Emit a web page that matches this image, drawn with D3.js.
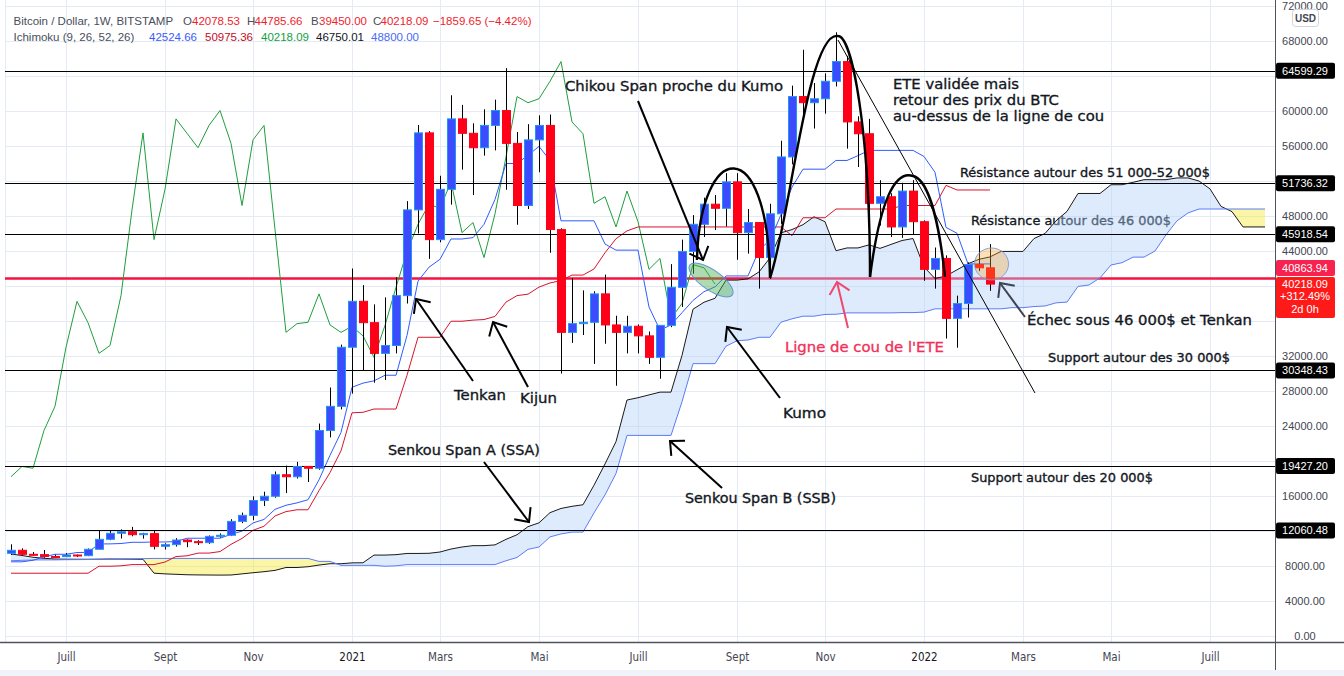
<!DOCTYPE html>
<html>
<head>
<meta charset="utf-8">
<script src="https://cdn.jsdelivr.net/npm/d3@7/dist/d3.min.js"></script>
<style>
html,body{margin:0;padding:0;background:#ffffff;}
svg{display:block;}
</style>
</head>
<body>
<svg id="chart" width="1344" height="676"></svg>
<script>
// ================= DATA =================
// weekly candles, bar index -5 (2020-06-01) ... 84 (2022-02-14)
const firstBar = -5;
const openP = [9451,9794,9337,9300,9090,9067,9257,9180,9910,11050,11740,11920,11580,11700,10250,10440,10970,10780,10670,11390,11510,13100,13790,15480,15970,18430,18200,19380,19170,23490,26250,33000,38250,35810,32300,33200,38900,48700,57500,45300,51050,59100,57450,55800,58350,60050,56300,49200,56700,58350,46450,34700,35700,35850,39100,35550,34700,35400,34300,31850,35500,39850,43950,47050,49350,48880,51900,46100,47250,43250,48250,54750,61650,60950,61400,63400,65650,58750,57400,49450,50200,46750,50850,47350,41900,43150,36300,38000,42450,42078.53];
const highP = [10480,10020,9600,9830,9300,9480,9320,10000,12100,12000,12190,12470,11800,12080,10600,11180,11050,10950,11490,11720,13350,14100,15960,16490,18800,19480,19900,19420,24280,28400,33300,42000,40100,37900,38700,41000,49700,58400,57700,52600,61800,60700,58600,60200,61300,64900,57600,58500,59500,59600,46600,40900,39500,39400,41300,36600,36600,35600,34800,35500,42500,45300,48100,50100,50400,52900,52900,48800,47300,49400,56600,62900,67000,63200,64300,69000,66300,59400,59100,52100,50600,51800,52099,47500,44400,43500,38900,42700,45800,44785.66];
const lowP = [9260,9220,9200,8950,8950,9020,9020,9130,9900,10950,11150,11400,11120,9900,9880,10220,10150,10400,10530,11250,11420,12900,13230,14850,15800,16330,18000,17600,19000,22700,25900,27700,30400,28950,29250,32300,38000,46000,43100,45000,49300,53300,50400,54900,55500,51000,47000,48800,53000,43800,30000,33500,34400,31100,33400,28600,32300,32300,31100,29400,35300,37600,41400,45600,46400,46800,43000,43700,39700,40800,47100,53900,59600,58000,59700,62800,55700,53600,42000,46900,45600,45500,45900,40600,39700,34000,32951,36400,41700,39450];
const closeP = [9794,9337,9300,9090,9067,9257,9180,9910,11050,11740,11920,11580,11700,10250,10440,10970,10780,10670,11390,11510,13100,13790,15480,15970,18430,18200,19380,19170,23490,26250,33000,38250,35810,32300,33200,38900,48700,57500,45300,51050,59100,57450,55800,58350,60050,56300,49200,56700,58350,46450,34700,35700,35850,39100,35550,34700,35400,34300,31850,35500,39850,43950,47050,49350,48880,51900,46100,47250,43250,48250,54750,61650,60950,61400,63400,65650,58750,57400,49450,50200,46750,50850,47350,41900,43150,36300,38000,42450,42078.53,40218.09];

// Ichimoku lines, same bar indexing as candles
const tenkan = [8480,8480,8655,9040,9340,9340,9540,9560,10525,10525,10570,10710,10710,10745,10745,10800,11175,11175,11175,11175,11615,11990,12920,13320,14475,14940,15215,15575,17850,20650,23265,28425,28900,29165,29800,29800,34350,40550,42150,43050,45375,45375,45525,47050,49900,54000,54000,54950,55950,54350,47450,47450,47450,47450,44800,44100,44100,44100,37600,34950,35550,36950,38350,39350,39900,41150,41150,41150,44100,45250,48150,51300,53350,53350,53350,54350,54350,54900,55500,55500,55500,55500,55500,54800,53000,46700,46025,42525,42525,42525];
const kijun = [7175,7175,7175,7175,7175,7175,7175,7175,7975,7975,8020,8160,8160,8160,8455,9080,9165,9475,9475,9650,10475,11150,12080,12545,13720,14215,14425,14425,16615,18675,21160,25510,25565,25940,25940,25940,29790,34140,34140,34140,35975,35975,36100,36165,36525,38160,38900,39065,39875,40350,40615,41250,41250,41950,43800,45400,46300,46750,46750,46750,46750,46750,46750,46750,46750,46750,46750,46750,46750,46750,46750,45750,47800,47800,47800,48800,48800,48800,48800,48800,48800,49200,49200,49200,49200,51500,50975,50975,50975,50975];
// lagging span, bar -5 ... 59
const chikouFirstBar = -5;
const chikou = [18200,19380,19170,23490,26250,33000,38250,35810,32300,33200,38900,48700,57500,45300,51050,59100,57450,55800,58350,60050,56300,49200,56700,58350,46450,34700,35700,35850,39100,35550,34700,35400,34300,31850,35500,39850,43950,47050,49350,48880,51900,46100,47250,43250,48250,54750,61650,60950,61400,63400,65650,58750,57400,49450,50200,46750,50850,47350,41900,43150,36300,38000,42450,42078.53,40218.09];
// leading spans, bar -5 ... 109
const spanFirstBar = -5;
const senkouA = [9370,9200,9000,8880,8800,8780,8770,8770,8780,8800,8790,8780,8765,7180,7100,7050,7000,6980,6970,6960,6970,7100,7230,7350,7500,7828,7828,7915,8108,8258,8258,8358,8368,9250,9250,9295,9435,9435,9453,9600,9940,10170,10325,10325,10413,11045,11570,12500,12933,14098,14578,14820,15000,17233,19663,22213,26968,27233,27553,27870,27870,32070,37345,38145,38595,40675,40675,40813,41608,43213,46080,46450,47008,47913,47350,44033,44350,44350,44700,44300,44750,45200,45425,42175,40850,41150,41850,42550,43050,43325,43950,43950,43950,45425,46000,47450,48525,50575,50575,50575,51575,51575,51850,52150,52150,52150,52350,52350,52000,51100,49100,48500,46750,46750,46750];
const senkouB = [8600,8650,8690,8700,8700,8720,8730,8740,8760,8780,8800,8820,8840,8865,8865,8865,8865,8865,8865,8865,8865,8865,8865,8865,8865,8865,8865,8865,8525,8525,8075,8075,8075,8075,7975,8020,8160,8160,8160,8160,8160,8160,8160,8160,8160,8600,8975,9905,10170,11325,11665,11875,11875,14065,16125,18575,22925,22925,22925,22925,22925,26775,31125,31125,31125,33120,33745,33830,34140,34140,35865,36250,36550,36550,36750,36770,36925,36925,36925,36925,36925,36960,36960,37015,37390,37390,37390,37390,37390,37390,37390,37525,37525,37650,37715,38075,38160,39950,40115,40925,42400,42665,43300,43300,44000,45850,47450,48350,48800,48800,48800,48800,48800,48800,48800];

// axes
const monthLabels = ["Juill","Sept","Nov","2021","Mars","Mai","Juill","Sept","Nov","2022","Mars","Mai","Juill"];
const monthBars = [0,9,17,26,34,43,52,61,69,78,87,95,104];
const priceTicks = [0,4000,8000,12000,16000,20000,24000,28000,32000,36000,40000,44000,48000,52000,56000,60000,64000,68000,72000];

// horizontal levels drawn on the chart
const levelPrices = [64599.29, 51736.32, 45918.54, 30348.43, 19427.20, 12060.48];
const neckPrice = 40863.94;
const lastPrice = 40218.09;

// ================= SETUP =================
const W = 1344, H = 676;
const PL = 5, PR = 1275, PT = 0, PB = 642;
const x = d3.scaleLinear().domain([0, 100]).range([66, 1166]);
const y = d3.scaleLinear().domain([0, 72000]).range([636, 6]);

const svg = d3.select("#chart");
svg.append("rect").attr("width", W).attr("height", H).attr("fill", "#ffffff");
const defs = svg.append("defs");
defs.append("clipPath").attr("id", "plotClip").append("rect")
  .attr("x", PL).attr("y", PT).attr("width", PR - PL).attr("height", PB - PT);

const plot = svg.append("g").attr("clip-path", "url(#plotClip)");

// grid
const grid = plot.append("g").attr("stroke", "#e4ebf5").attr("stroke-width", 1);
priceTicks.forEach(v => {
  const yy = Math.round(y(v)) + 0.5;
  grid.append("line").attr("x1", PL).attr("x2", PR).attr("y1", yy).attr("y2", yy);
});
monthBars.forEach(b => {
  const xx = Math.round(x(b)) + 0.5;
  grid.append("line").attr("x1", xx).attr("x2", xx).attr("y1", PT).attr("y2", PB);
});
plot.append("line").attr("x1", PL + 0.5).attr("x2", PL + 0.5).attr("y1", PT).attr("y2", PB)
  .attr("stroke", "#e4ebf5");

// neckline (under the cloud)
plot.append("line").attr("x1", PL).attr("x2", PR)
  .attr("y1", y(neckPrice)).attr("y2", y(neckPrice))
  .attr("stroke", "#f5133f").attr("stroke-width", 2.4);

// text helper
const FONT = "'DejaVu Sans', Verdana, sans-serif";
function addText(g, t) {
  const col = t.color || "#131722";
  const el = g.append("text").attr("x", x(t.b)).attr("y", y(t.p))
    .attr("font-family", FONT).attr("font-size", t.size)
    .attr("fill", col).attr("stroke", col).attr("stroke-width", 0.35)
    .attr("paint-order", "stroke");
  if (t.lines) {
    t.lines.forEach((s, i) => {
      el.append("tspan").attr("x", x(t.b)).attr("dy", i === 0 ? 0 : t.lh).text(s);
    });
  } else {
    if (t.len) el.attr("textLength", t.len).attr("lengthAdjust", "spacingAndGlyphs");
    el.text(t.t);
  }
}
// text under the cloud
addText(plot, {t: "Résistance autour des 46 000$", b: 82.27, p: 46971, size: 13, len: 200});

// ================= CLOUD =================
const spans = senkouA.map((a, k) => ({b: spanFirstBar + k, a: a, s: senkouB[k]}));
const aboveB = d3.area().x(d => x(d.b)).y0(-20).y1(d => y(d.s));
const belowB = d3.area().x(d => x(d.b)).y0(d => y(d.s)).y1(H + 20);
defs.append("clipPath").attr("id", "clipAbove").append("path").attr("d", aboveB(spans));
defs.append("clipPath").attr("id", "clipBelow").append("path").attr("d", belowB(spans));
const between = d3.area().x(d => x(d.b)).y0(d => y(d.s)).y1(d => y(d.a));
plot.append("g").attr("clip-path", "url(#clipAbove)").append("path")
  .attr("d", between(spans)).attr("fill", "rgba(176,208,250,0.42)");
plot.append("g").attr("clip-path", "url(#clipBelow)").append("path")
  .attr("d", between(spans)).attr("fill", "rgba(246,232,60,0.45)");

const line = d3.line().x(d => x(d[0])).y(d => y(d[1]));
plot.append("path").attr("d", line(spans.map(d => [d.b, d.a])))
  .attr("fill", "none").attr("stroke", "#1a1a1a").attr("stroke-width", 1);
plot.append("path").attr("d", line(spans.map(d => [d.b, d.s])))
  .attr("fill", "none").attr("stroke", "#5a7cf8").attr("stroke-width", 1);

// chikou, kijun, tenkan
plot.append("path").attr("d", line(chikou.map((v, k) => [chikouFirstBar + k, v])))
  .attr("fill", "none").attr("stroke", "#1f9e3c").attr("stroke-width", 1);
plot.append("path").attr("d", line(kijun.map((v, k) => [firstBar + k, v])))
  .attr("fill", "none").attr("stroke", "#d8142d").attr("stroke-width", 1);
plot.append("path").attr("d", line(tenkan.map((v, k) => [firstBar + k, v])))
  .attr("fill", "none").attr("stroke", "#2f5bff").attr("stroke-width", 1);

// horizontal black levels (over the cloud)
levelPrices.forEach(v => {
  const yy = Math.round(y(v)) + 0.5;
  plot.append("line").attr("x1", PL).attr("x2", PR).attr("y1", yy).attr("y2", yy)
    .attr("stroke", "#000").attr("stroke-width", 1.2);
});

// ================= CANDLES =================
const candles = openP.map((o, k) => ({b: firstBar + k, o: o, h: highP[k], l: lowP[k], c: closeP[k]}));
const cg = plot.append("g");
candles.forEach(d => {
  const cx = Math.round(x(d.b));
  cg.append("line").attr("x1", cx + 0.5).attr("x2", cx + 0.5)
    .attr("y1", y(d.h)).attr("y2", y(d.l)).attr("stroke", "#000").attr("stroke-width", 1);
  const up = d.c >= d.o;
  const top = y(Math.max(d.o, d.c)), bot = y(Math.min(d.o, d.c));
  cg.append("rect").attr("x", cx - 3.5).attr("width", 8)
    .attr("y", top).attr("height", Math.max(1, bot - top))
    .attr("fill", up ? "#3b4bfd" : "#ff0019")
    .attr("stroke", up ? "#2196f3" : "#ff0019").attr("stroke-width", 1);
});

// ================= ANNOTATIONS =================
const ann = plot.append("g");

// ellipses
const ellipses = [
  {b: 58.64, p: 40686, rx: 26, ry: 10, rot: 35, fill: "rgba(76,175,80,0.45)", stroke: "rgba(90,140,215,0.9)"},
  {b: 84.14, p: 42514, rx: 17, ry: 16, rot: 0, fill: "rgba(245,160,40,0.33)", stroke: "rgba(130,155,215,0.9)"}
];
ellipses.forEach(e => {
  ann.append("ellipse").attr("transform", `translate(${x(e.b)},${y(e.p)}) rotate(${e.rot})`)
    .attr("rx", e.rx).attr("ry", e.ry).attr("fill", e.fill).attr("stroke", e.stroke).attr("stroke-width", 1);
});

// head & shoulders curves: [bar, price] points (move, then cubic segments)
const eteCurves = [
  [[57.36, 42971], [57.64, 56686], [63.82, 57829], [64.0, 40914]],
  [[64.0, 40914], [65.82, 47543], [67.45, 69257], [70.18, 68571], [71.45, 68571], [73.09, 57829], [73.09, 41029]],
  [[73.09, 41029], [74.0, 49829], [75.36, 53257], [77.0, 52571], [78.55, 52114], [79.45, 46400], [79.91, 41029]]
];
eteCurves.forEach(c => {
  const p = d3.path();
  const P = c.map(q => [x(q[0]), y(q[1])]);
  p.moveTo(P[0][0], P[0][1]);
  for (let i = 1; i + 2 < P.length; i += 3) {
    p.bezierCurveTo(P[i][0], P[i][1], P[i + 1][0], P[i + 1][1], P[i + 2][0], P[i + 2][1]);
  }
  ann.append("path").attr("d", p.toString()).attr("fill", "none")
    .attr("stroke", "#000").attr("stroke-width", 2.4);
});

// thin trend line from the head
const trend = [[70.18, 68114], [88.09, 27771]];
ann.append("path").attr("d", line(trend)).attr("stroke", "#000").attr("stroke-width", 1).attr("fill", "none");

// arrows [start], [tip]
const arrows = [
  {s: [52.0, 61143], e: [57.91, 42971], c: "#000"},
  {s: [37.0, 29143], e: [31.82, 38514], c: "#000"},
  {s: [42.0, 28457], e: [38.82, 35886], c: "#000"},
  {s: [64.91, 27200], e: [60.09, 35314], c: "#000"},
  {s: [38.0, 19886], e: [42.09, 13029], c: "#000"},
  {s: [59.64, 16914], e: [54.91, 22286], c: "#000"},
  {s: [71.09, 35200], e: [70.09, 40457], c: "#f2476c"},
  {s: [87.18, 36457], e: [84.91, 40343], c: "#3d4350"}
];
arrows.forEach(a => {
  const x0 = x(a.s[0]), y0 = y(a.s[1]), x1 = x(a.e[0]), y1 = y(a.e[1]);
  ann.append("line").attr("x1", x0).attr("y1", y0).attr("x2", x1).attr("y2", y1)
    .attr("stroke", a.c).attr("stroke-width", 2);
  const ang = Math.atan2(y0 - y1, x0 - x1), L = 15, da = 0.75;
  const pts = [[x1 + L * Math.cos(ang + da), y1 + L * Math.sin(ang + da)], [x1, y1],
               [x1 + L * Math.cos(ang - da), y1 + L * Math.sin(ang - da)]];
  ann.append("path").attr("d", d3.line()(pts)).attr("fill", "none")
    .attr("stroke", a.c).attr("stroke-width", 2).attr("stroke-linejoin", "miter");
});

// texts
const texts = [
  {t: "Chikou Span proche du Kumo", b: 45.36, p: 62286, size: 14.7, len: 218},
  {lines: ["ETE validée mais", "retour des prix du BTC", "au-dessus de la ligne de cou"], b: 75.18, p: 62514, size: 14.8, lh: 15.8},
  {t: "Résistance autour des 51 000-52 000$", b: 81.27, p: 52457, size: 13, len: 250},
  {t: "Échec sous 46 000$ et Tenkan", b: 87.36, p: 35543, size: 14.7, len: 225},
  {t: "Support autour des 30 000$", b: 89.27, p: 31314, size: 13, len: 182},
  {t: "Ligne de cou de l'ETE", b: 65.36, p: 32457, size: 14.8, len: 159, color: "#f0315a"},
  {t: "Tenkan", b: 35.27, p: 26971, size: 14.5, len: 52},
  {t: "Kijun", b: 41.27, p: 26629, size: 14.5, len: 37},
  {t: "Kumo", b: 65.18, p: 24914, size: 14.7, len: 43},
  {t: "Senkou Span A (SSA)", b: 29.27, p: 20686, size: 14.3, len: 152},
  {t: "Senkou Span B (SSB)", b: 56.27, p: 15200, size: 14.3, len: 151},
  {t: "Support autour des 20 000$", b: 82.27, p: 17600, size: 13, len: 182}
];
texts.forEach(t => addText(ann, t));

// ================= AXES =================
const AX = "'Liberation Sans', Arial, sans-serif";
svg.append("line").attr("x1", PR + 0.5).attr("x2", PR + 0.5).attr("y1", 0).attr("y2", H)
  .attr("stroke", "#50535e").attr("stroke-width", 1);
svg.append("line").attr("x1", 0).attr("x2", W).attr("y1", PB + 0.5).attr("y2", PB + 0.5)
  .attr("stroke", "#50535e").attr("stroke-width", 1.5);
svg.append("rect").attr("x", 0).attr("y", 670).attr("width", W).attr("height", 6).attr("fill", "#f0f3fa");

// price ticks (hidden where a level label sits)
const labelYs = levelPrices.map(v => y(v)).concat([268, 277, 298, 318]);
priceTicks.forEach(v => {
  const yy = y(v);
  if (labelYs.some(ly => Math.abs(ly - yy) < 11)) return;
  svg.append("text").attr("x", 1305).attr("y", yy + 4).attr("text-anchor", "middle")
    .attr("font-family", AX).attr("font-size", 11).attr("fill", "#434651")
    .text(v.toFixed(2));
});

// level labels
levelPrices.forEach(v => {
  const yy = y(v);
  svg.append("rect").attr("x", PR + 1).attr("y", yy - 8).attr("width", 59).attr("height", 16)
    .attr("rx", 2).attr("fill", "#000");
  svg.append("text").attr("x", 1305).attr("y", yy + 4).attr("text-anchor", "middle")
    .attr("font-family", AX).attr("font-size", 11).attr("fill", "#fff").text(v.toFixed(2));
});
// neck label (shifted up to avoid overlap)
svg.append("rect").attr("x", PR + 1).attr("y", 260).attr("width", 59).attr("height", 16)
  .attr("rx", 2).attr("fill", "#f7224f");
svg.append("text").attr("x", 1305).attr("y", 272).attr("text-anchor", "middle")
  .attr("font-family", AX).attr("font-size", 11).attr("fill", "#fff").text(neckPrice.toFixed(2));
// last price label
const lpY = y(lastPrice);
svg.append("rect").attr("x", PR + 1).attr("y", lpY - 7).attr("width", 59).attr("height", 41)
  .attr("rx", 2).attr("fill", "#ff1a1a");
const lastLines = [lastPrice.toFixed(2), "+312.49%", "2d 0h"];
lastLines.forEach((s, i) => {
  svg.append("text").attr("x", 1305).attr("y", lpY + 4 + i * 12.3).attr("text-anchor", "middle")
    .attr("font-family", AX).attr("font-size", 11).attr("fill", "#fff").text(s);
});
// USD badge
svg.append("rect").attr("x", 1292.5).attr("y", 9.5).attr("width", 26).attr("height", 17).attr("rx", 3)
  .attr("fill", "#fff").attr("stroke", "#d1d4dc");
svg.append("text").attr("x", 1305.5).attr("y", 22).attr("text-anchor", "middle")
  .attr("font-family", AX).attr("font-size", 10).attr("font-weight", "bold").attr("fill", "#434651").text("USD");

// time axis
monthLabels.forEach((m, i) => {
  svg.append("text").attr("x", x(monthBars[i]) + 0.5).attr("y", 661).attr("text-anchor", "middle")
    .attr("font-family", "'Liberation Sans Narrow','DejaVu Sans Condensed','Liberation Sans',sans-serif")
    .attr("font-stretch", "condensed")
    .attr("font-size", 11.5).attr("fill", /20\d\d/.test(m) ? "#131722" : "#434651").text(m);
});

// ================= LEGEND =================
const LG = "'Liberation Sans', Arial, sans-serif";
const legend1 = [
  ["Bitcoin / Dollar, 1W, BITSTAMP", 13.5, "#4a4e5a"], ["O", 183, "#4a4e5a"], ["42078.53", 192, "#f01d2d"],
  ["H", 247, "#4a4e5a"], ["44785.66", 254.5, "#f01d2d"], ["B", 311, "#4a4e5a"], ["39450.00", 319, "#f01d2d"],
  ["C", 373, "#4a4e5a"], ["40218.09", 380.5, "#f01d2d"], ["\u22121859.65 (\u22124.42%)", 433, "#f01d2d"]
];
const legend2 = [
  ["Ichimoku (9, 26, 52, 26)", 13.5, "#4a4e5a"], ["42524.66", 149, "#3a5bf7"], ["50975.36", 205, "#c60b1e"],
  ["40218.09", 261, "#10a13f"], ["46750.01", 316, "#131722"], ["48800.00", 371, "#4a6af8"]
];
[[legend1, 24.5], [legend2, 40.5]].forEach(([items, yy]) => {
  items.forEach(([s, xx, col]) => {
    svg.append("text").attr("x", xx).attr("y", yy).attr("font-family", LG).attr("font-size", 11.5)
      .attr("fill", col).text(s);
  });
});
</script>
</body>
</html>
